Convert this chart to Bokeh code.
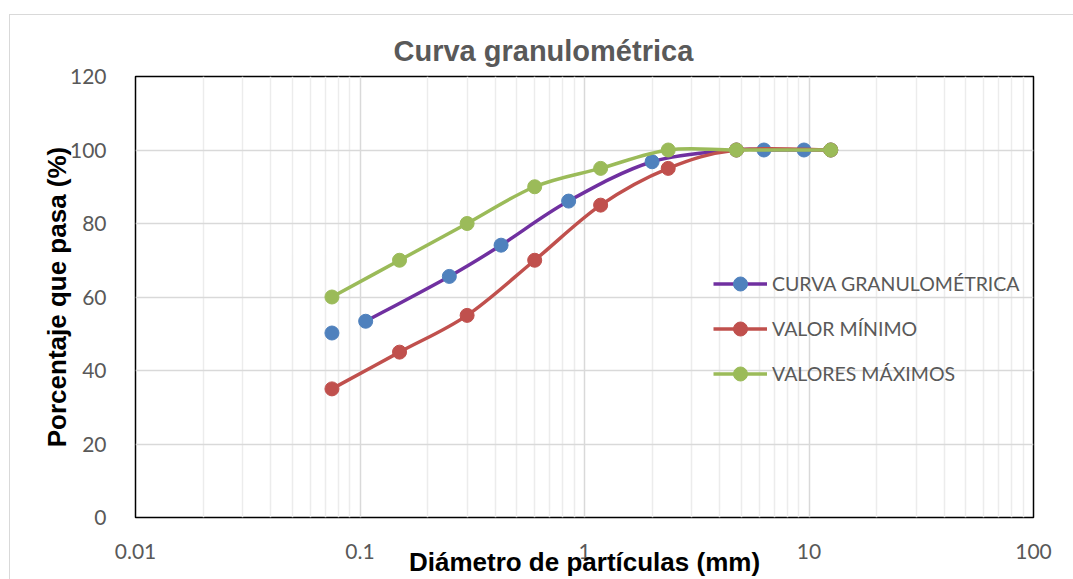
import numpy as np
from bokeh.plotting import figure
from bokeh.models import (Range1d, FixedTicker, Legend, LegendItem, Title,
                          InlineStyleSheet)
from bokeh.embed import file_html
from bokeh.resources import INLINE

# ---- data ----
curva_x = [0.075, 0.106, 0.25, 0.425, 0.85, 2.0, 4.75, 6.3, 9.5, 12.5]
curva_y = [50.2, 53.4, 65.6, 74.1, 86.1, 96.8, 100, 100, 100, 100]
min_x = [0.075, 0.15, 0.3, 0.6, 1.18, 2.36, 4.75, 12.5]
min_y = [35, 45, 55, 70, 85, 95, 100, 100]
max_x = [0.075, 0.15, 0.3, 0.6, 1.18, 2.36, 4.75, 12.5]
max_y = [60, 70, 80, 90, 95, 100, 100, 100]
x_ticks = [0.01, 0.1, 1, 10, 100]
x_tick_labels = ["0.01", "0.1", "1", "10", "100"]
x_minor = [k * 10.0 ** e for e in range(-2, 2) for k in range(2, 10)]
y_ticks = [0, 20, 40, 60, 80, 100, 120]

GREY_TXT = "#595959"


def smooth(xs, ys):
    """Catmull-Rom style bezier control points in (log10 x, y) space."""
    lx = np.log10(np.asarray(xs, dtype=float))
    y = np.asarray(ys, dtype=float)
    n = len(lx)
    out = dict(x0=[], y0=[], x1=[], y1=[], cx0=[], cy0=[], cx1=[], cy1=[])
    for i in range(n - 1):
        a = i - 1 if i > 0 else i
        d = i + 2 if i + 2 < n else i + 1
        c1x = lx[i] + (lx[i + 1] - lx[a]) / 6.0
        c1y = y[i] + (y[i + 1] - y[a]) / 6.0
        c2x = lx[i + 1] - (lx[d] - lx[i]) / 6.0
        c2y = y[i + 1] - (y[d] - y[i]) / 6.0
        out["x0"].append(10 ** lx[i]); out["y0"].append(y[i])
        out["x1"].append(10 ** lx[i + 1]); out["y1"].append(y[i + 1])
        out["cx0"].append(10 ** c1x); out["cy0"].append(c1y)
        out["cx1"].append(10 ** c2x); out["cy1"].append(c2y)
    return out


border_css = InlineStyleSheet(css="""
:host { position: relative; }
:host::after { content: ""; position: absolute; left: 9px; top: 14px;
  right: -20px; bottom: -20px; border: 1.5px solid #d9d9d9;
  pointer-events: none; }
""")

p = figure(width=1073, height=579, x_axis_type="log",
           x_range=Range1d(0.01, 100), y_range=Range1d(0, 120),
           output_backend="svg", toolbar_location=None,
           min_border_left=135, min_border_right=40,
           min_border_top=76, min_border_bottom=62,
           stylesheets=[border_css])
p.background_fill_color = "white"
p.border_fill_color = "white"
p.outline_line_color = "black"
p.outline_line_width = 1.5

p.title = Title(text="Curva granulométrica", align="left", offset=258,
                text_font="Liberation Sans", text_font_size="29px",
                text_font_style="bold", text_color=GREY_TXT, standoff=19)

# axes
p.xaxis.ticker = FixedTicker(ticks=x_ticks, minor_ticks=x_minor)
p.xaxis.major_label_overrides = {t: l for t, l in zip(x_ticks, x_tick_labels)}
p.yaxis.ticker = FixedTicker(ticks=y_ticks)
for ax in (p.xaxis[0], p.yaxis[0]):
    ax.axis_line_color = None
    ax.major_tick_line_color = None
    ax.minor_tick_line_color = None
    ax.major_label_text_font = "Lato"
    ax.major_label_text_font_size = "21px"
    ax.major_label_text_color = GREY_TXT
    ax.axis_label_text_font = "Liberation Sans"
    ax.axis_label_text_font_size = "26px"
    ax.axis_label_text_font_style = "bold"
    ax.axis_label_text_color = "black"
p.xaxis.axis_label = "Diámetro de partículas (mm)"
p.yaxis.axis_label = "Porcentaje que pasa (%)"
p.xaxis.major_label_standoff = 20
p.yaxis.major_label_standoff = 23
p.xaxis.axis_label_standoff = -15
p.yaxis.axis_label_standoff = -5

# grids
p.xgrid.grid_line_color = "#d9d9d9"
p.xgrid.grid_line_width = 1.5
p.xgrid.minor_grid_line_color = "#ececec"
p.xgrid.minor_grid_line_width = 1.5
p.ygrid.grid_line_color = "#d9d9d9"
p.ygrid.grid_line_width = 1.5

LW = 3.5
MS = 14

# series 1: curva granulometrica (line starts at second point)
s1 = smooth(curva_x[1:], curva_y[1:])
l1 = p.bezier(line_color="#7030a0", line_width=LW, **s1)
m1 = p.scatter(curva_x, curva_y, size=MS, fill_color="#4f81bd", line_color="#4f81bd")

s2 = smooth(min_x, min_y)
l2 = p.bezier(line_color="#c0504d", line_width=LW, **s2)
m2 = p.scatter(min_x, min_y, size=MS, fill_color="#c0504d", line_color="#c0504d")

s3 = smooth(max_x, max_y)
l3 = p.bezier(line_color="#9bbb59", line_width=LW, **s3)
m3 = p.scatter(max_x, max_y, size=MS, fill_color="#9bbb59", line_color="#9bbb59")

legend = Legend(items=[
    LegendItem(label="CURVA GRANULOMÉTRICA", renderers=[l1, m1]),
    LegendItem(label="VALOR MÍNIMO", renderers=[l2, m2]),
    LegendItem(label="VALORES MÁXIMOS", renderers=[l3, m3]),
], location=(578, 126))
legend.background_fill_alpha = 0
legend.border_line_color = None
legend.padding = 0
legend.margin = 0
legend.spacing = 10
legend.glyph_width = 54
legend.glyph_height = 35
legend.label_height = 35
legend.label_standoff = 5
legend.label_text_font = "Lato"
legend.label_text_font_size = "19.5px"
legend.label_text_color = GREY_TXT
p.add_layout(legend)

open("out.html", "w").write(file_html(p, INLINE))
